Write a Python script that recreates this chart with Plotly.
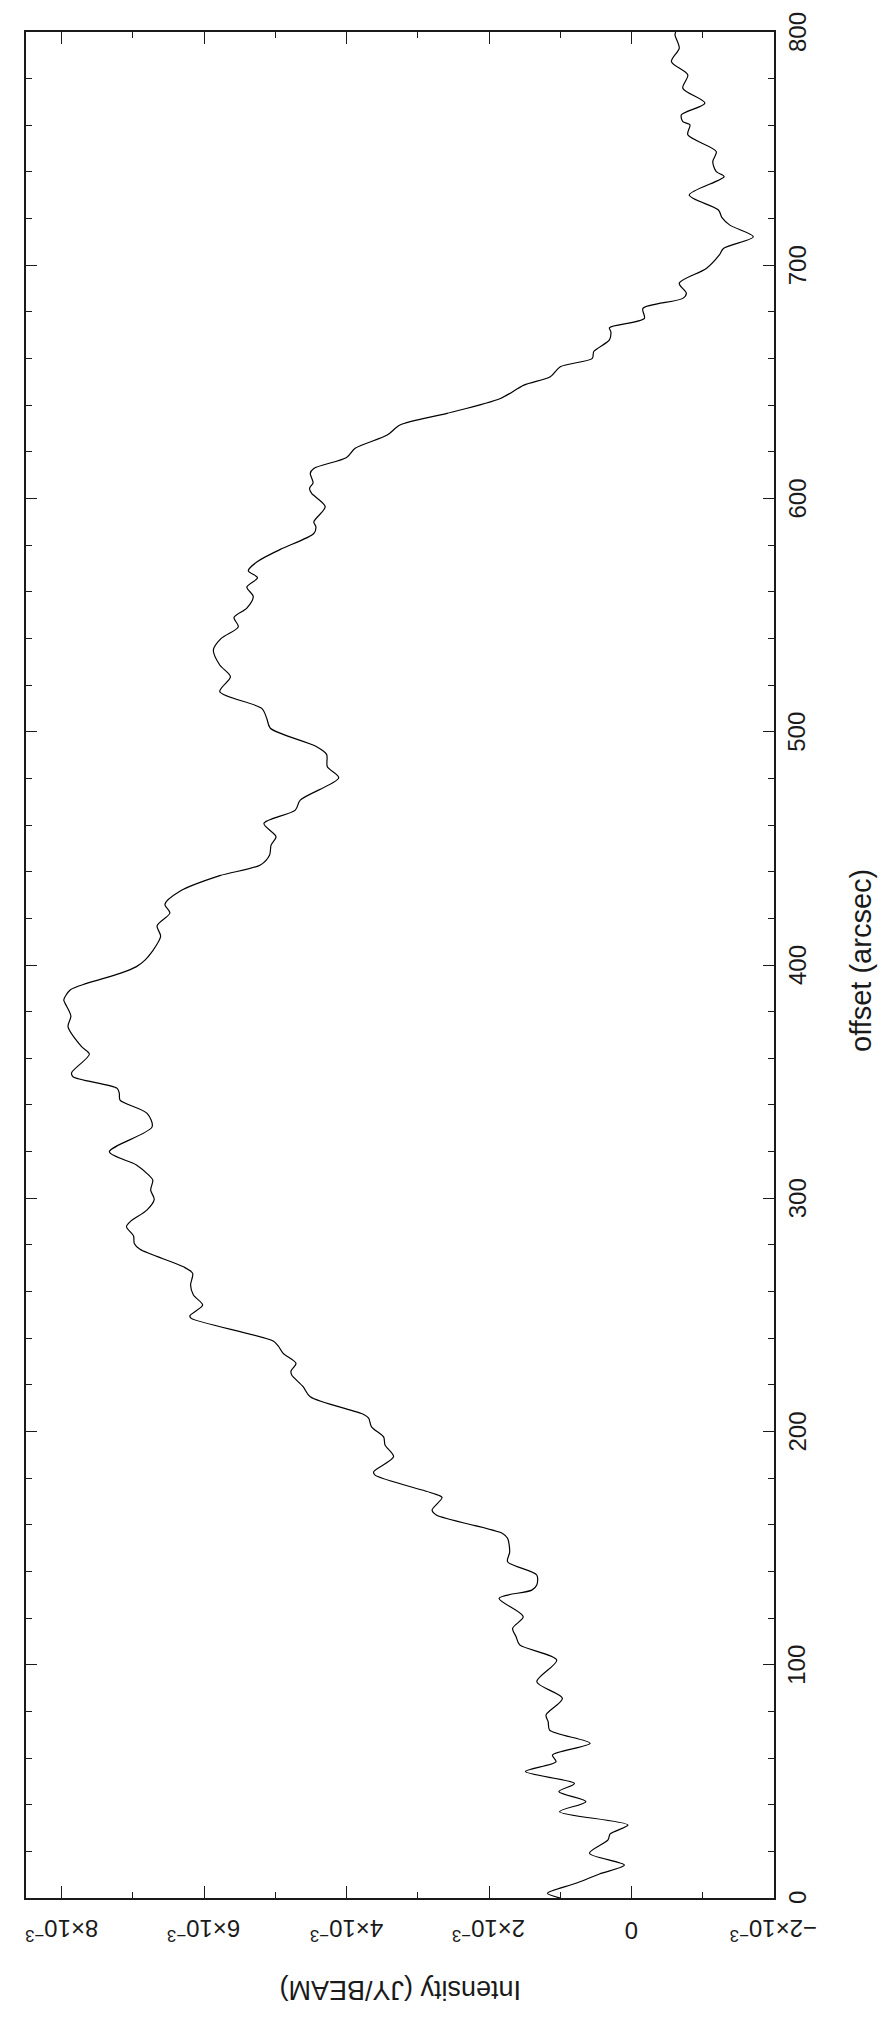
import numpy as np
import plotly.graph_objects as go

# Intensity profile along the cut: offset in arcsec, intensity in units of 1e-3 Jy/beam
offset_arcsec = [
    0, 2.0, 6.3, 10.3, 14.1, 19.2, 24.9, 27.5, 31.3, 37.0, 41.3, 45.6, 49.1, 54.2,
    58.4, 61.3, 66.3, 72.0, 75.5, 78.5, 85.6, 92.7, 102.0, 108.5, 112.0, 115.6,
    120.6, 128.5, 132.0, 134.2, 138.5, 144.2, 148.4, 154.2, 156.3, 164.2, 166.3,
    171.7, 173.5, 181.3, 182.7, 189.2, 194.2, 197.7, 202.0, 205.7, 207.3, 214.9,
    219.2, 224.2, 225.9, 229.2, 233.5, 236.7, 238.8, 248.5, 249.6, 254.2, 258.5,
    262.8, 267.8, 270.6, 278.1, 280.6, 283.8, 287.8, 289.9, 295.0, 299.5, 303.5,
    307.8, 310.0, 314.3, 319.9, 330.6, 336.4, 342.1, 345.0, 347.1, 352.1, 353.8,
    361.8, 365.0, 373.6, 378.1, 383.5, 385.0, 389.3, 392.1, 396.4, 399.3, 402.1,
    405.7, 412.3, 416.8, 422.3, 426.0, 431.6, 438.3, 442.9, 447.2, 451.4, 455.0,
    460.7, 466.4, 470.7, 480.3, 485.0, 490.3, 493.6, 501.5, 505.7, 510.0, 517.2,
    523.6, 528.6, 535.0, 540.0, 545.0, 549.0, 553.0, 558.0, 562.0, 566.0, 569.0,
    573.0, 578.2, 585.0, 587.9, 590.0, 596.5, 602.2, 604.4, 606.7, 610.8, 612.9,
    617.6, 621.5, 627.2, 631.5, 636.5, 642.9, 648.6, 652.2, 656.5, 660.1, 663.0,
    668.0, 671.5, 673.2, 677.2, 681.5, 685.8, 688.0, 692.3, 698.6, 704.3, 707.2,
    712.2, 717.2, 720.4, 723.7, 730.1, 738.0, 740.1, 744.4, 748.7, 755.9, 760.2,
    761.6, 764.5, 769.5, 775.9, 781.6, 787.3, 793.1, 798.7, 800.0,
]
intensity_e3 = [
    1.00, 1.18, 0.78, 0.45, 0.10, 0.59, 0.33, 0.30, 0.05, 1.01, 0.64, 1.02, 0.80, 1.49,
    1.06, 1.11, 0.58, 1.15, 1.17, 1.20, 0.97, 1.33, 1.05, 1.57, 1.62, 1.67,
    1.52, 1.86, 1.40, 1.33, 1.33, 1.74, 1.71, 1.74, 1.81, 2.74, 2.80,
    2.66, 2.79, 3.60, 3.62, 3.34, 3.46, 3.48, 3.65, 3.69, 3.76, 4.51,
    4.61, 4.77, 4.78, 4.71, 4.89, 4.96, 5.03, 6.18, 6.20, 6.02, 6.15,
    6.19, 6.16, 6.29, 6.90, 6.98, 6.99, 7.09, 7.04, 6.80, 6.70, 6.75,
    6.72, 6.78, 6.95, 7.33, 6.73, 6.80, 7.18, 7.19, 7.22, 7.84, 7.86,
    7.61, 7.72, 7.91, 7.87, 7.95, 7.97, 7.88, 7.65, 7.18, 6.95, 6.83,
    6.73, 6.61, 6.66, 6.48, 6.55, 6.34, 5.78, 5.21, 5.08, 5.06, 4.99,
    5.16, 4.72, 4.65, 4.11, 4.27, 4.28, 4.42, 5.07, 5.12, 5.19, 5.78,
    5.63, 5.78, 5.87, 5.76, 5.52, 5.58, 5.40, 5.31, 5.40, 5.25, 5.38,
    5.25, 4.93, 4.46, 4.43, 4.46, 4.30, 4.49, 4.52, 4.47, 4.51, 4.46,
    4.00, 3.88, 3.43, 3.25, 2.59, 1.84, 1.51, 1.14, 1.00, 0.55, 0.53,
    0.31, 0.29, 0.31, -0.18, -0.16, -0.72, -0.77, -0.67, -1.05, -1.23, -1.29,
    -1.71, -1.38, -1.27, -1.22, -0.81, -1.30, -1.19, -1.14, -1.19, -0.79, -0.82,
    -0.72, -0.70, -1.03, -0.72, -0.79, -0.56, -0.67, -0.61, -0.62,
]

intensity_ticks = [8e-3, 6e-3, 4e-3, 2e-3, 0, -2e-3]
intensity_ticktext = ["8×10<sup>−3</sup>", "6×10<sup>−3</sup>", "4×10<sup>−3</sup>",
                      "2×10<sup>−3</sup>", "0", "−2×10<sup>−3</sup>"]
offset_ticks = [0, 100, 200, 300, 400, 500, 600, 700, 800]

intensity = np.array(intensity_e3) * 1e-3

FONT = "Liberation Sans"
INK = "#1a1a1a"
TICK_SIZE = 24
TITLE_SIZE = 27

# plot frame in pixels (figure is 882 x 2017)
L, R, T, B = 26, 774, 32, 1898
PW, PH = R - L, B - T

fig = go.Figure()
fig.add_trace(go.Scatter(
    x=intensity, y=offset_arcsec, mode="lines",
    line=dict(color="black", width=1.2, shape="spline", smoothing=0.8),
    hoverinfo="skip", showlegend=False,
))

annotations = []
# intensity tick labels, drawn upside down under each major tick
for v, t in zip(intensity_ticks, intensity_ticktext):
    annotations.append(dict(
        text=t, xref="x", yref="paper", x=v, y=(B - 1930) / PH,
        textangle=180, showarrow=False, xanchor="center", yanchor="middle",
        font=dict(family=FONT, size=TICK_SIZE, color=INK)))
# offset tick labels, reading bottom to top beside the right axis
for v in offset_ticks:
    annotations.append(dict(
        text=str(v), xref="paper", yref="y", x=(797 - L) / PW, y=v,
        textangle=-90, showarrow=False, xanchor="center", yanchor="middle",
        font=dict(family=FONT, size=TICK_SIZE, color=INK)))
annotations += [
    dict(text="offset (arcsec)", xref="paper", yref="paper",
         x=(861 - L) / PW, y=(B - 960) / PH, textangle=-90, showarrow=False,
         xanchor="center", yanchor="middle",
         font=dict(family=FONT, size=29, color=INK)),
    dict(text="Intensity (JY/BEAM)", xref="paper", yref="paper",
         x=(400 - L) / PW, y=(B - 1990) / PH, textangle=180, showarrow=False,
         xanchor="center", yanchor="middle",
         font=dict(family=FONT, size=TITLE_SIZE, color=INK)),
]

fig.update_layout(
    width=882, height=2017,
    margin=dict(l=L, r=882 - R, t=T, b=2017 - B),
    paper_bgcolor="white", plot_bgcolor="white",
    font=dict(family=FONT, size=TICK_SIZE, color=INK),
    xaxis=dict(
        range=[8.5e-3, -2e-3], autorange=False,
        showgrid=False, zeroline=False, showticklabels=False,
        showline=True, linecolor=INK, linewidth=1.5, mirror="allticks",
        ticks="inside", ticklen=12, tickwidth=1.3, tickcolor=INK,
        tickmode="array", tickvals=intensity_ticks,
        minor=dict(ticks="inside", ticklen=6, tickwidth=1.2, tickcolor=INK,
                   tickmode="linear", tick0=0, dtick=1e-3),
    ),
    yaxis=dict(
        range=[0, 800], autorange=False, side="right",
        showgrid=False, zeroline=False, showticklabels=False,
        showline=True, linecolor=INK, linewidth=1.5, mirror="allticks",
        ticks="inside", ticklen=11, tickwidth=1.3, tickcolor=INK,
        tickmode="array", tickvals=offset_ticks,
        minor=dict(ticks="inside", ticklen=6, tickwidth=1.2, tickcolor=INK,
                   tickmode="linear", tick0=0, dtick=20),
    ),
    annotations=annotations,
)

fig.write_html("out.html")
